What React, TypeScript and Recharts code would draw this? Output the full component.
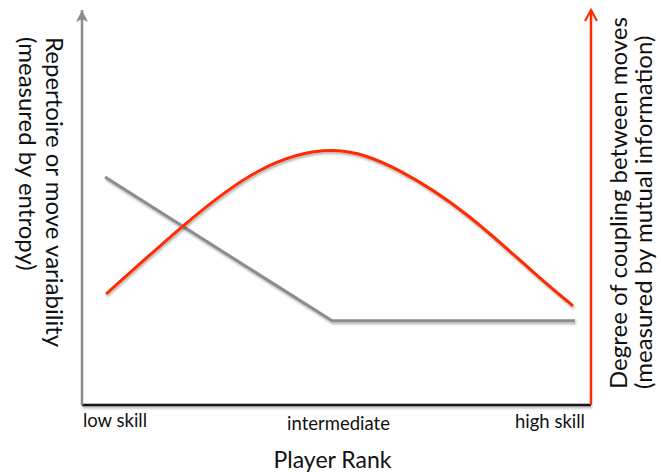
import React from 'react';
import { LineChart, Line, XAxis, YAxis } from 'recharts';

// x on a 0..100 rank scale, y on a 0..100 scale
const repertoireX = [4.52, 49.12, 96.86];
const repertoireY = [57.7, 21.3, 21.3];

const couplingX = [4.72, 19.84, 34.38, 49.31, 62.48, 75.64, 88.61, 96.46];
const couplingY = [28.1, 45.3, 59.0, 64.4, 59.2, 48.1, 33.7, 25.1];

const rankTicks = [6.48, 50.39, 91.94];
const rankLabels = ['low skill', 'intermediate', 'high skill'];

const leftTitle = ['Repertoire or move variability', '(measured by entropy)'];
const rightTitle = ['Degree of coupling between moves', '(measured by mutual information)'];
const xTitle = 'Player Rank';

const GRAY = '#8c8c8c';
const RED = '#ff2a00';
const FONT = 'Lato, "Open Sans", sans-serif';

const repertoire = repertoireX.map((x, i) => ({ x, y: repertoireY[i] }));
const coupling = couplingX.map((x, i) => ({ x, y: couplingY[i] }));

function RankTick({ x, y, payload }: any) {
  const i = rankTicks.indexOf(payload?.value);
  const dy = [14, 17, 15][i] ?? 14;
  return (
    <text x={x} y={y} dy={dy} textAnchor="middle" fontFamily={FONT} fontSize={18.5} fill="#111">
      {rankLabels[i] ?? ''}
    </text>
  );
}

function SideTitle({ viewBox, side }: any) {
  const vb = viewBox ?? { x: 0, y: 0, width: 0, height: 0 };
  if (side === 'left') {
    const bx = vb.x + vb.width - 36;
    const by = vb.y + 27;
    return (
      <text transform={`translate(${bx},${by}) rotate(90)`} fontFamily={FONT} fontSize={24} fill="#111">
        <tspan x={0} y={0}>{leftTitle[0]}</tspan>
        <tspan x={0} y={27}>{leftTitle[1]}</tspan>
      </text>
    );
  }
  const bx = vb.x + 36;
  const by = vb.y + vb.height - 16;
  return (
    <text transform={`translate(${bx},${by}) rotate(-90)`} fontFamily={FONT} fontSize={24} fill="#111">
      <tspan x={0} y={0}>{rightTitle[0]}</tspan>
      <tspan x={0} y={25}>{rightTitle[1]}</tspan>
    </text>
  );
}

function BottomTitle({ viewBox }: any) {
  const vb = viewBox ?? { x: 0, y: 0, width: 0, height: 0 };
  return (
    <text x={vb.x + vb.width / 2 - 4} y={vb.y + 63} textAnchor="middle" fontFamily={FONT} fontSize={23} fill="#111">
      {xTitle}
    </text>
  );
}

export default function App() {
  return (
    <div style={{ position: 'absolute', left: 0, top: 0, width: 661, height: 472, background: '#fff' }}>
      <svg width={0} height={0} style={{ position: 'absolute' }}>
        <defs>
          <marker id="arrowGray" markerUnits="userSpaceOnUse" markerWidth={16} markerHeight={16}
            refX={12} refY={7} orient="auto-start-reverse">
            <path d="M0,1 L12,7 L0,13 L3,7 Z" fill={GRAY} />
          </marker>
          <marker id="arrowRed" markerUnits="userSpaceOnUse" markerWidth={16} markerHeight={16}
            refX={12} refY={7} orient="auto-start-reverse">
            <path d="M1,1 L12,7 L1,13" fill="none" stroke={RED} strokeWidth={2.2} />
          </marker>
          <filter id="soft" filterUnits="userSpaceOnUse" x={0} y={0} width={661} height={472}>
            <feDropShadow dx={1} dy={2} stdDeviation={1.2} floodColor="#000" floodOpacity={0.3} />
          </filter>
        </defs>
      </svg>
      <LineChart width={661} height={472} margin={{ top: 10, right: 0, bottom: 0, left: 0 }}>
        <XAxis
          type="number"
          dataKey="x"
          domain={[0, 100]}
          ticks={rankTicks}
          tick={<RankTick />}
          tickLine={false}
          height={67}
          axisLine={{ stroke: '#151515', strokeWidth: 2.5, filter: 'url(#soft)' }}
          label={<BottomTitle />}
        />
        <YAxis
          yAxisId="left"
          domain={[0, 100]}
          width={82}
          tick={false}
          tickLine={false}
          axisLine={{ stroke: GRAY, strokeWidth: 2.5, markerStart: 'url(#arrowGray)' }}
          label={<SideTitle side="left" />}
        />
        <YAxis
          yAxisId="right"
          orientation="right"
          domain={[0, 100]}
          width={70}
          tick={false}
          tickLine={false}
          axisLine={{ stroke: RED, strokeWidth: 2.5, markerStart: 'url(#arrowRed)' }}
          label={<SideTitle side="right" />}
        />
        <Line
          yAxisId="left"
          data={repertoire}
          dataKey="y"
          type="linear"
          stroke={GRAY}
          strokeWidth={3}
          dot={false}
          activeDot={false}
          filter="url(#soft)"
          isAnimationActive={false}
        />
        <Line
          yAxisId="right"
          data={coupling}
          dataKey="y"
          type="natural"
          stroke={RED}
          strokeWidth={3}
          dot={false}
          activeDot={false}
          filter="url(#soft)"
          isAnimationActive={false}
        />
      </LineChart>
    </div>
  );
}
